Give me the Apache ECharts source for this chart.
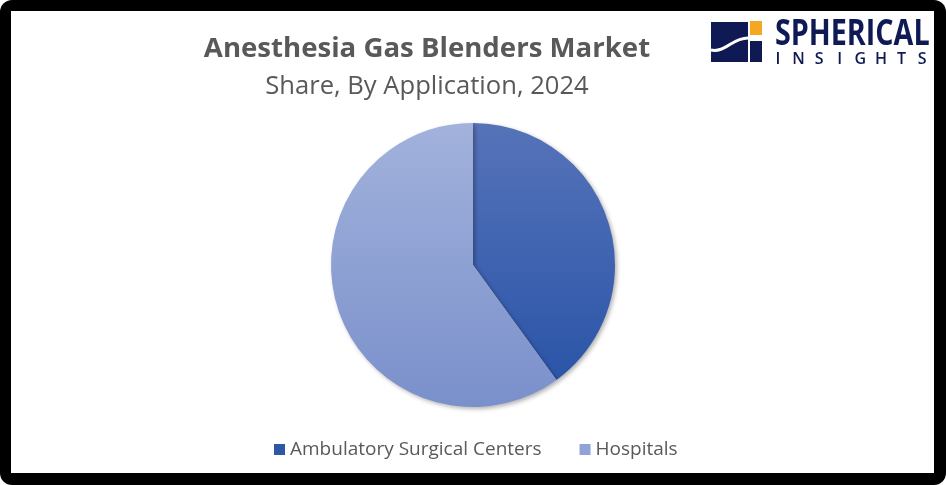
<!DOCTYPE html>
<html>
<head>
<meta charset="utf-8">
<script src="https://cdn.jsdelivr.net/npm/echarts@6/dist/echarts.min.js"></script>
<style>
  html, body { margin: 0; padding: 0; background: #fff; }
  .frame {
    position: absolute; left: 0; top: 0;
    width: 946px; height: 485px;
    background: #000; border-radius: 12px;
  }
  .inner {
    position: absolute; left: 11px; top: 11px;
    width: 923px; height: 462px;
    background: #fff;
  }
  #chart { position: absolute; left: 0; top: 0; width: 946px; height: 485px; }
</style>
</head>
<body>
<div class="frame"><div class="inner"></div></div>
<div id="chart"></div>
<script>
// data
const categories = ['Ambulatory Surgical Centers', 'Hospitals']
const shares = [40, 60]

const titleText = 'Anesthesia Gas Blenders Market'
const subtitleText = 'Share, By Application, 2024'

const grad = (top, bottom) => new echarts.graphic.LinearGradient(0, 0, 0, 1, [
  { offset: 0, color: top },
  { offset: 1, color: bottom }
])
const sliceColors = [grad('#5673b9', '#2b55a8'), grad('#a2b2dc', '#7a90cb')]
const legendColors = ['#2f57a8', '#8fa3d6']

const chart = echarts.init(document.getElementById('chart'))

// logo letters
const navy = '#0f1a55'
const insights = 'INSIGHTS'.split('').map((ch, i) => ({
  type: 'text',
  x: 778 + i * 20.6,
  y: 59,
  style: { text: ch, fill: navy, font: '600 16px "Open Sans"', align: 'center', verticalAlign: 'middle' }
}))

const option = {
  backgroundColor: 'transparent',
  title: [
    {
      text: titleText,
      left: 422, top: 30, textAlign: 'center',
      textStyle: { fontFamily: 'Open Sans', fontWeight: 'bold', fontSize: 27.6, color: '#595959' }
    },
    {
      text: subtitleText,
      left: 422, top: 69, textAlign: 'center',
      textStyle: { fontFamily: 'Open Sans', fontWeight: 'normal', fontSize: 25.6, color: '#595959' }
    }
  ],
  legend: {
    bottom: 21,
    left: 269,
    itemWidth: 11, itemHeight: 11, itemGap: 38,
    icon: 'rect',
    textStyle: { fontFamily: 'Open Sans', fontSize: 19, color: '#595959' },
    data: categories.map((c, i) => ({ name: c, itemStyle: { color: legendColors[i] } }))
  },
  graphic: [
    { type: 'rect', shape: { x: 711, y: 22, width: 37, height: 40 }, style: { fill: navy } },
    {
      type: 'bezierCurve',
      shape: { x1: 711, y1: 50, cpx1: 725, cpy1: 53, cpx2: 732, cpy2: 38, x2: 748, y2: 38 },
      style: { stroke: '#fff', lineWidth: 3, fill: null }
    },
    { type: 'rect', shape: { x: 750, y: 41, width: 12, height: 21 }, style: { fill: navy } },
    { type: 'rect', shape: { x: 750, y: 21, width: 12, height: 14 }, style: { fill: '#f5a623' } },
    {
      type: 'text', x: 775, y: 35, scaleX: 0.82,
      style: { text: 'SPHERICAL', fill: navy, font: 'bold 35px "Open Sans"', verticalAlign: 'middle' }
    },
    ...insights
  ],
  series: [
    {
      name: 'Share',
      type: 'pie',
      center: [473, 265],
      radius: 142,
      startAngle: 90,
      clockwise: true,
      label: { show: false },
      labelLine: { show: false },
      emphasis: { disabled: true },
      itemStyle: {
        borderWidth: 0,
        shadowBlur: 4,
        shadowOffsetX: 2,
        shadowOffsetY: 2,
        shadowColor: 'rgba(0,0,0,0.3)'
      },
      data: categories.map((c, i) => ({
        name: c,
        value: shares[i],
        itemStyle: { color: sliceColors[i] }
      }))
    }
  ]
}

chart.setOption(option)
</script>
</body>
</html>
